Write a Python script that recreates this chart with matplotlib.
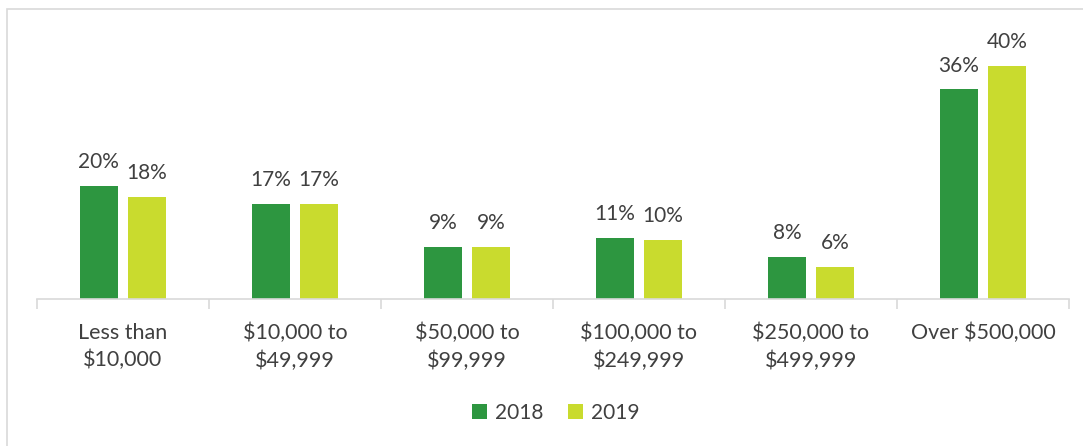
import numpy as np
import matplotlib.pyplot as plt
from matplotlib.patches import Rectangle
from matplotlib.ticker import FixedLocator

# ---------------------------------------------------------------- dati
categorie = ["Less than\n$10,000", "$10,000 to\n$49,999", "$50,000 to\n$99,999",
             "$100,000 to\n$249,999", "$250,000 to\n$499,999", "Over $500,000"]
valori_2018 = [19.4, 16.4, 8.9, 10.5, 7.2, 36.0]
valori_2019 = [17.5, 16.4, 8.9, 10.1, 5.5, 40.0]
etichette_2018 = ["20%", "17%", "9%", "11%", "8%", "36%"]
etichette_2019 = ["18%", "17%", "9%", "10%", "6%", "40%"]
serie = ["2018", "2019"]

VERDE = "#2D9640"
LIME = "#C9DB2E"
TESTO = "#404040"
GRIGIO = "#D9D9D9"

plt.rcParams["font.family"] = ["Lato", "DejaVu Sans"]

W, H = 1083, 446
fig = plt.figure(figsize=(W / 100, H / 100), dpi=100)
ax = fig.add_axes([37 / W, 1 - 299 / H, (1069 - 37) / W, 262 / H])

x = np.arange(len(categorie))
larg = 0.22
off = 0.14
b1 = ax.bar(x - off, valori_2018, larg, color=VERDE, label=serie[0])
b2 = ax.bar(x + off, valori_2019, larg, color=LIME, label=serie[1])

for barre, etich in ((b1, etichette_2018), (b2, etichette_2019)):
    for b, t in zip(barre, etich):
        ax.annotate(t, (b.get_x() + b.get_width() / 2, b.get_height()),
                    xytext=(0, 10), textcoords="offset points",
                    ha="center", va="bottom", fontsize=15, color=TESTO)

ax.set_xlim(-0.5, len(categorie) - 0.5)
ax.set_ylim(0, 45)
ax.set_yticks([])
ax.set_xticks(x)
ax.set_xticklabels(categorie, fontsize=15.5, color=TESTO, linespacing=1.45)
ax.tick_params(axis="x", which="major", length=0, pad=17)
ax.xaxis.set_minor_locator(FixedLocator(np.arange(-0.5, len(categorie), 1.0)))
ax.tick_params(axis="x", which="minor", length=7, color=GRIGIO, width=1.2)

for lato in ("top", "right", "left"):
    ax.spines[lato].set_visible(False)
ax.spines["bottom"].set_color(GRIGIO)
ax.spines["bottom"].set_linewidth(1.2)

leg = fig.legend(loc="center", bbox_to_anchor=(556 / W, 1 - 413 / H), ncol=2,
                 frameon=False, fontsize=15, handlelength=0.7, handleheight=0.7,
                 handletextpad=0.4, columnspacing=1.2)
for t in leg.get_texts():
    t.set_color(TESTO)

# bordo esterno del grafico (tagliato a destra e in basso)
fig.patches.append(Rectangle((7 / W, -0.1), 1.2, 1 - 9 / H + 0.1, transform=fig.transFigure,
                             fill=False, edgecolor=GRIGIO, linewidth=1.2))

fig.savefig("out.png", dpi=100)
